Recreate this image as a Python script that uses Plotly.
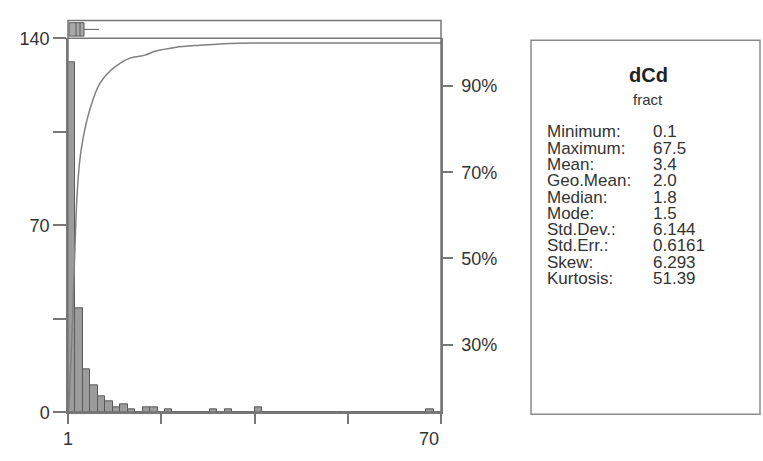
import plotly.graph_objects as go

# ---- data -------------------------------------------------------------
# histogram of dCd: 50 equal bins spanning the axis from 1 to 70
bin_start = 1.0
bin_width = 1.38
bin_counts = [131, 39, 16, 10, 6, 4, 2, 3, 1, 0,
              2, 2, 0, 1, 0, 0, 0, 0, 0, 1,
              0, 1, 0, 0, 0, 2, 0, 0, 0, 0,
              0, 0, 0, 0, 0, 0, 0, 0, 0, 0,
              0, 0, 0, 0, 0, 0, 0, 0, 1, 0]

# cumulative distribution (percent)
cdf_x = [1.09, 1.28, 1.55, 1.83, 2.02, 2.30, 2.67, 3.22, 3.78, 4.33, 5.07,
         6.00, 6.92, 8.77, 10.62, 12.47, 15.25, 17.10, 20.80, 25.42, 30.97,
         36.52, 70.0]
cdf_pct = [14.3, 18.5, 26.5, 35.8, 42.7, 53.1, 64.6, 73.2, 77.8, 81.2, 84.7,
           88.2, 90.7, 93.5, 95.3, 96.5, 97.2, 98.1, 99.0, 99.5, 99.9,
           100.0, 100.0]

# box plot summary shown above the histogram
box_q1 = 1.19
box_median = 2.48
box_mean = 3.22
box_q3 = 3.96
box_upper = 6.74

# axis ticks
x_ticks = [1, 18.25, 35.5, 52.75, 70]
x_tick_labels = ["1", "70"]
x_label_pos = [1, 70]
y_ticks = [0, 35, 70, 105, 140]
y_tick_labels = ["0", "", "70", "", "140"]
pct_ticks = [30, 50, 70, 90]
pct_tick_labels = ["30%", "50%", "70%", "90%"]

# summary statistics panel
stats_title = "dCd"
stats_unit = "fract"
stat_names = ["Minimum:", "Maximum:", "Mean:", "Geo.Mean:", "Median:", "Mode:",
              "Std.Dev.:", "Std.Err.:", "Skew:", "Kurtosis:"]
stat_values = ["0.1", "67.5", "3.4", "2.0", "1.8", "1.5",
               "6.144", "0.6161", "6.293", "51.39"]

# ---- layout helpers ---------------------------------------------------
W, H = 763, 461
FONT = "Arial, Liberation Sans, sans-serif"
AXIS = "#777777"
TEXT = "#333333"

# vertical placement: the page is shown slightly squeezed, so positions are
# expressed in screen pixels and converted back to paper fractions
V_OFF, V_SCALE = 8.5, 0.962


def px(x):
    return x / W


def py(y):
    return 1 - ((y - V_OFF) / V_SCALE) / H


plot_left, plot_right = 68, 441
plot_bottom, plot_top, strip_top = 413, 37, 19

bar_x = [bin_start + bin_width * (i + 0.5) for i in range(len(bin_counts))]

fig = go.Figure()

fig.add_trace(go.Bar(
    x=bar_x, y=bin_counts, width=bin_width,
    marker=dict(color="#9c9c9c", line=dict(color="#5a5a5a", width=1)),
    xaxis="x", yaxis="y", showlegend=False, hoverinfo="skip"))

fig.add_trace(go.Scatter(
    x=cdf_x, y=cdf_pct, mode="lines", line=dict(color="#808080", width=1.5, shape="spline"),
    xaxis="x", yaxis="y2", showlegend=False, hoverinfo="skip"))

fig.add_trace(go.Box(
    y=[0], q1=[box_q1], median=[box_median], q3=[box_q3],
    lowerfence=[box_q1], upperfence=[box_upper], orientation="h",
    width=0.75, whiskerwidth=0, fillcolor="#a8a8a8",
    line=dict(color="#5a5a5a", width=1), boxpoints=False,
    xaxis="x", yaxis="y3", showlegend=False, hoverinfo="skip"))

fig.add_trace(go.Scatter(
    x=[box_mean, box_mean], y=[-0.375, 0.375], mode="lines",
    line=dict(color="#5a5a5a", width=1),
    xaxis="x", yaxis="y3", showlegend=False, hoverinfo="skip"))

left_font = dict(family=FONT, size=18, color=TEXT)
right_font = dict(family=FONT, size=18, color=TEXT)

fig.update_layout(
    width=W, height=H,
    margin=dict(l=0, r=0, t=0, b=0, pad=0),
    paper_bgcolor="white", plot_bgcolor="white",
    bargap=0,
    xaxis=dict(domain=[px(plot_left), px(plot_right)], range=[1, 70], anchor="y",
               showgrid=False, zeroline=False, showline=True, linecolor=AXIS, linewidth=1.5,
               ticks="outside", ticklen=10, tickwidth=1.5, tickcolor=AXIS,
               tickvals=x_ticks, showticklabels=False),
    yaxis=dict(domain=[py(plot_bottom), py(plot_top)], range=[0, 140], anchor="x",
               showgrid=False, zeroline=False, showline=True, linecolor=AXIS, linewidth=1.5,
               ticks="outside", ticklen=13, tickwidth=1.5, tickcolor=AXIS,
               tickvals=y_ticks, ticktext=y_tick_labels, tickfont=left_font),
    yaxis2=dict(overlaying="y", side="right", anchor="x", range=[14.3, 101.1],
                showgrid=False, zeroline=False, showline=True, linecolor=AXIS, linewidth=1.5,
                ticks="outside", ticklen=10, tickwidth=1.5, tickcolor=AXIS,
                ticklabelstandoff=5,
                tickvals=pct_ticks, ticktext=pct_tick_labels, tickfont=right_font),
    yaxis3=dict(domain=[py(plot_top), py(strip_top)], range=[-0.5, 0.5], anchor="x",
                showgrid=False, zeroline=False, showline=False, showticklabels=False,
                ticks=""),
)

# frame of the plot and the box-plot strip
shapes = [
    dict(type="rect", xref="paper", yref="paper",
         x0=px(plot_left), x1=px(plot_right), y0=py(plot_bottom), y1=py(strip_top),
         line=dict(color=AXIS, width=1.5)),
    dict(type="line", xref="paper", yref="paper",
         x0=px(plot_left), x1=px(plot_right), y0=py(plot_top), y1=py(plot_top),
         line=dict(color=AXIS, width=1.5)),
    # statistics panel
    dict(type="rect", xref="paper", yref="paper",
         x0=px(531), x1=px(760), y0=py(415), y1=py(39),
         line=dict(color="#8a8a8a", width=1.5), fillcolor="rgba(0,0,0,0)"),
]

annotations = []
for pos, lab, anchor in zip(x_label_pos, x_tick_labels, ["center", "right"]):
    annotations.append(dict(x=pos, y=py(440), xref="x", yref="paper", text=lab,
                            showarrow=False, xanchor=anchor, yanchor="middle",
                            font=left_font))

annotations.append(dict(x=px(648), y=py(74), xref="paper", yref="paper",
                        text="<b>" + stats_title + "</b>", showarrow=False,
                        xanchor="center", yanchor="middle",
                        font=dict(family=FONT, size=20, color="#222222")))
annotations.append(dict(x=px(648), y=py(99), xref="paper", yref="paper",
                        text=stats_unit, showarrow=False,
                        xanchor="center", yanchor="middle",
                        font=dict(family=FONT, size=15, color=TEXT)))

row_font = dict(family=FONT, size=17, color=TEXT)
for i, (name, val) in enumerate(zip(stat_names, stat_values)):
    yy = py(131 + i * 16.4)
    annotations.append(dict(x=px(545), y=yy, xref="paper", yref="paper", text=name,
                            showarrow=False, xanchor="left", yanchor="middle", font=row_font))
    annotations.append(dict(x=px(651), y=yy, xref="paper", yref="paper", text=val,
                            showarrow=False, xanchor="left", yanchor="middle", font=row_font))

fig.update_layout(shapes=shapes, annotations=annotations)

fig.write_html("out.html")
